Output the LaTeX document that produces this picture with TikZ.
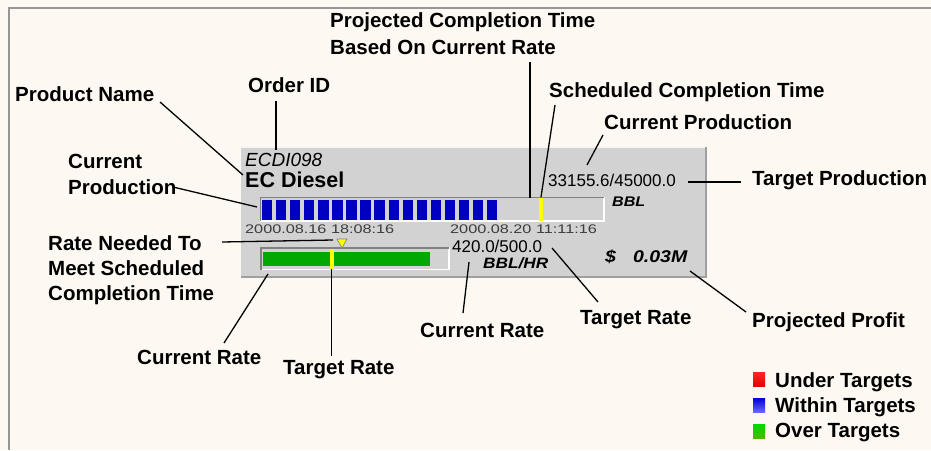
\documentclass[tikz,border=0pt]{standalone}
\usepackage{graphicx}
\usepackage{fontspec}
\setmainfont{Liberation Sans}
\newfontfamily\datefam[FakeStretch=1.3]{Liberation Sans}
\newfontfamily\unitfam[FakeStretch=1.15]{Liberation Sans}

\definecolor{paper}{RGB}{253,248,241}
\definecolor{framegray}{RGB}{150,150,150}
\definecolor{panelgray}{RGB}{210,210,210}
\definecolor{panelshade}{RGB}{160,160,160}
\definecolor{insetgray}{RGB}{128,128,128}
\definecolor{barblue}{RGB}{0,0,192}
\definecolor{bargreen}{RGB}{0,168,0}
\definecolor{markyellow}{RGB}{255,255,0}
\definecolor{datetext}{RGB}{60,60,60}

\tikzset{
  lbl/.style={font=\fontsize{20.5}{25}\selectfont\bfseries, inner sep=0pt, anchor=base west},
  numtxt/.style={font=\fontsize{17}{20}\selectfont, inner sep=0pt, anchor=base west},
  datetxt/.style={font=\datefam\fontsize{12.5}{15}\selectfont, text=datetext, inner sep=0pt, anchor=base west},
  unittxt/.style={font=\unitfam\fontsize{#1}{18}\selectfont\bfseries\itshape, inner sep=0pt, anchor=base west},
  leader/.style={draw=black, line width=1.3pt},
  swatch/.style={draw=none}
}

\begin{document}
\begin{tikzpicture}[x=1pt,y=-1pt]
  % page and frame
  \fill[paper] (0,0) rectangle (931,450);
  \useasboundingbox (0,0) rectangle (931,450);
  \draw[framegray, line width=2pt] (9,450) -- (9,8) -- (931,8);

  % ---- order panel ----
  \fill[panelgray] (241,146) rectangle (707,278);
  \draw[white!92!gray, line width=1.5pt] (241,146.8) -- (707,146.8);
  \draw[panelshade, line width=2pt] (706,147) -- (706,278);
  \draw[panelshade, line width=2pt] (241,277) -- (707,277);

  \node[font=\fontsize{19}{22}\selectfont\itshape, inner sep=0pt, anchor=base west] (orderno) at (245,166) {ECDI098};
  \node[font=\fontsize{21.5}{24}\selectfont\bfseries, inner sep=0pt, anchor=base west] (product) at (245,187) {EC Diesel};

  % production bar
  \draw[white, line width=1.5pt] (260,221) -- (604,221) -- (604,197);
  \draw[insetgray, line width=1.5pt] (260.5,221) -- (260.5,197.5) -- (604,197.5);
  \foreach \i in {0,...,16}{
    \fill[barblue] ({262+\i*14.06},200) rectangle ({272.3+\i*14.06},219.5);
  }
  \fill[markyellow] (538.5,198) rectangle (542.5,221);

  \node[datetxt] (startdate) at (245,233) {2000.08.16 18:08:16};
  \node[datetxt] (enddate) at (450,233) {2000.08.20 11:11:16};
  \node[numtxt] (prodval) at (548,186) {33155.6/45000.0};
  \node[unittxt=14] (produnit) at (612,206) {BBL};

  % rate bar
  \draw[white, line width=1.5pt] (260,269.5) -- (449,269.5) -- (449,247);
  \draw[insetgray, line width=2pt] (261,269.5) -- (261,248) -- (449,248);
  \fill[bargreen] (263,251.5) rectangle (430,266);
  \fill[markyellow] (330,249) rectangle (333.5,270);
  \filldraw[fill=markyellow, draw=insetgray, line width=0.6pt] (337,239) -- (347,239) -- (342,248) -- cycle;

  \node[numtxt] (rateval) at (452,252) {420.0/500.0};
  \node[unittxt=15] (rateunit) at (483,268) {BBL/HR};
  \node[unittxt=17] (profitval) at (605,262) {\$\hspace{17pt}0.03M};

  % ---- callout labels ----
  \node[lbl] (projA) at (330,27) {Projected Completion Time};
  \node[lbl] (projB) at (330,54) {Based On Current Rate};
  \node[lbl] (orderid) at (248,92) {Order ID};
  \node[lbl] (prodname) at (15,101) {Product Name};
  \node[lbl] (sched) at (549,97) {Scheduled Completion Time};
  \node[lbl] (curprodR) at (604,129) {Current Production};
  \node[lbl] (tgtprod) at (752,185) {Target Production};
  \node[lbl] (curprodA) at (68,168) {Current};
  \node[lbl] (curprodB) at (68,194) {Production};
  \node[lbl] (needA) at (48,250) {Rate Needed To};
  \node[lbl] (needB) at (48,275) {Meet Scheduled};
  \node[lbl] (needC) at (48,300) {Completion Time};
  \node[lbl] (currateL) at (137,364) {Current Rate};
  \node[lbl] (tgtrateL) at (283,374) {Target Rate};
  \node[lbl] (currateM) at (420,337) {Current Rate};
  \node[lbl] (tgtrateR) at (580,324) {Target Rate};
  \node[lbl] (profit) at (752,327) {Projected Profit};

  % ---- leader lines ----
  \coordinate (projTop) at (530,62);      \coordinate (projEnd) at (530,198);
  \coordinate (schedTop) at (555,105);    \coordinate (schedEnd) at (541,197);
  \coordinate (cprTop) at (603,135);      \coordinate (cprEnd) at (587,165);
  \coordinate (tpStart) at (688,182);     \coordinate (tpEnd) at (741,182);
  \coordinate (oidTop) at (276,101);      \coordinate (oidEnd) at (276,150);
  \coordinate (pnStart) at (160,102);     \coordinate (pnEnd) at (243,175);
  \coordinate (cpStart) at (173,187);     \coordinate (cpEnd) at (257,207);
  \coordinate (rnStart) at (222,242);     \coordinate (rnEnd) at (333,240);
  \coordinate (crLTop) at (268,274);      \coordinate (crLEnd) at (224,343);
  \coordinate (trLTop) at (331.7,269);    \coordinate (trLEnd) at (331.7,356);
  \coordinate (crMTop) at (469,262);      \coordinate (crMEnd) at (463,313);
  \coordinate (trRTop) at (552,248);      \coordinate (trREnd) at (598,302);
  \coordinate (pfTop) at (690,271);       \coordinate (pfEnd) at (746,312);

  \draw[leader] (projTop) -- (projEnd);
  \draw[leader] (schedTop) -- (schedEnd);
  \draw[leader] (cprTop) -- (cprEnd);
  \draw[leader] (tpStart) -- (tpEnd);
  \draw[leader] (oidTop) -- (oidEnd);
  \draw[leader] (pnStart) -- (pnEnd);
  \draw[leader] (cpStart) -- (cpEnd);
  \draw[leader] (rnStart) -- (rnEnd);
  \draw[leader] (crLTop) -- (crLEnd);
  \draw[leader] (trLTop) -- (trLEnd);
  \draw[leader] (crMTop) -- (crMEnd);
  \draw[leader] (trRTop) -- (trREnd);
  \draw[leader] (pfTop) -- (pfEnd);

  % ---- legend ----
  \shade[top color=red!85!white, bottom color=red!90!black] (753,372) rectangle (765,386);
  \shade[top color=blue!85!black, bottom color=blue!60!white] (753,398) rectangle (765,412);
  \shade[top color=green!85!black, bottom color=green!60!black!70!yellow] (753,424) rectangle (765,438);
  \node[lbl] (under) at (775,387) {Under Targets};
  \node[lbl] (within) at (775,412) {Within Targets};
  \node[lbl] (over) at (775,437) {Over Targets};
\end{tikzpicture}
\end{document}
